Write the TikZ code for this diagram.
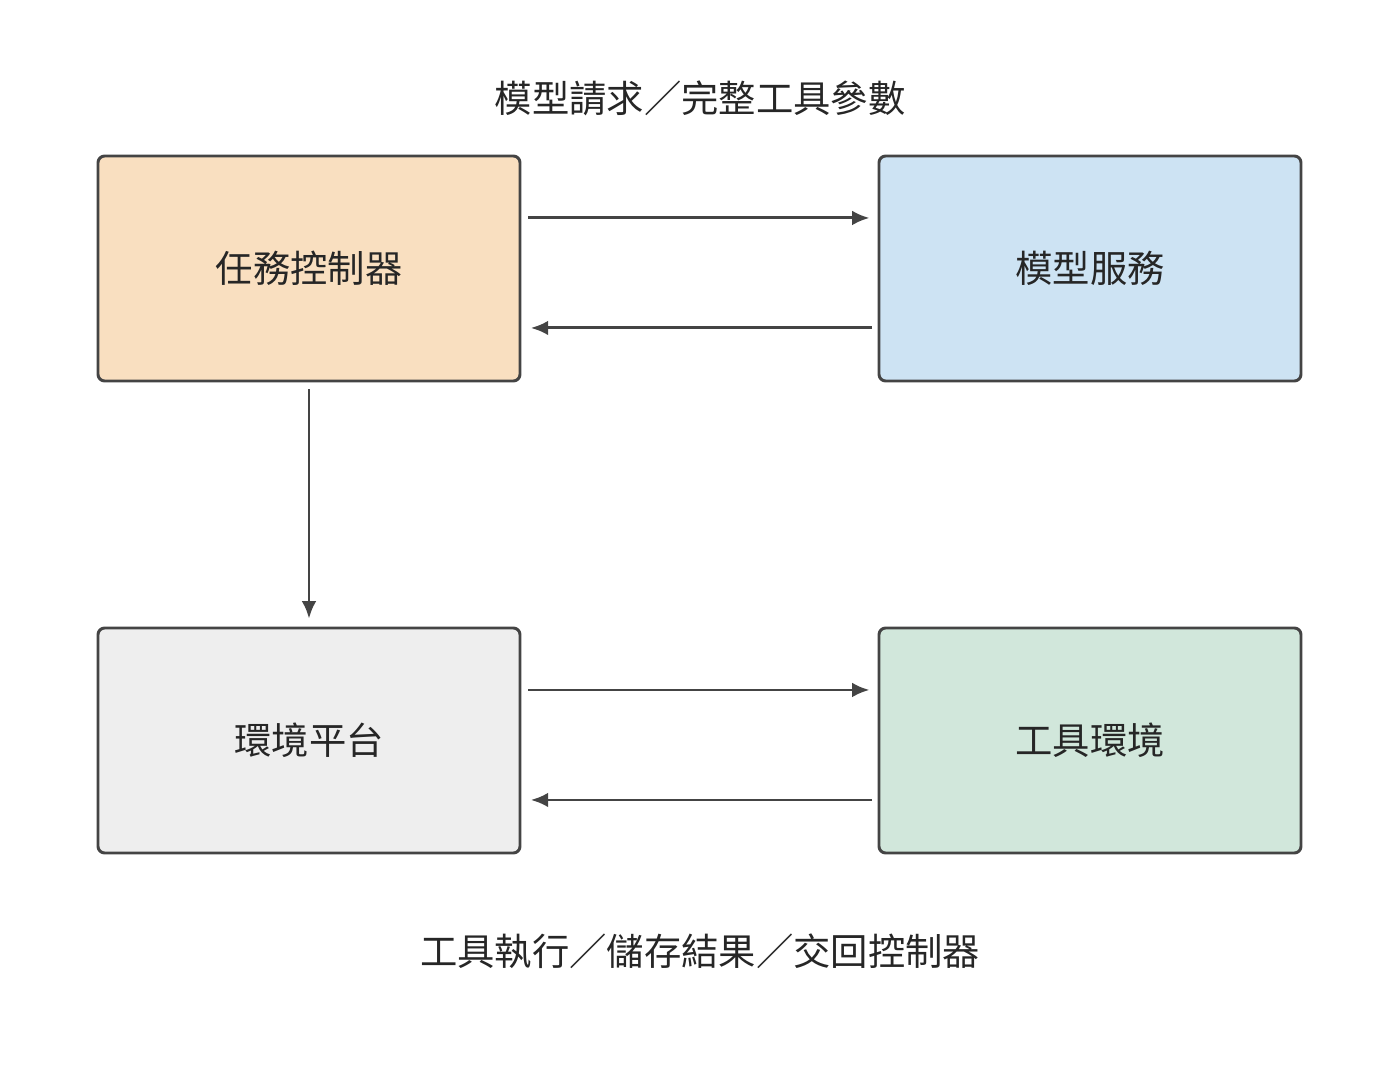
\documentclass[tikz,border=0pt]{standalone}
\usepackage{fontspec}
\newfontfamily\cjk{Noto Sans CJK TC}
\usetikzlibrary{arrows.meta}
\definecolor{edge}{RGB}{68,68,68}
\definecolor{ctrlfill}{RGB}{249,223,192}
\definecolor{modelfill}{RGB}{205,227,243}
\definecolor{envfill}{RGB}{238,238,238}
\definecolor{toolfill}{RGB}{209,231,219}
\begin{document}
\begin{tikzpicture}[x=0.75pt,y=-0.75pt,
  box/.style={draw=edge,line width=2.2pt,rounded corners=5pt,minimum width=316.5pt,minimum height=168.75pt,font=\cjk\fontsize{28}{32}\selectfont,text=black!85},
  link/.style={draw=edge,line width=2.2pt,-{Latex[length=13pt,width=11pt]}},
  caption/.style={font=\cjk\fontsize{28}{32}\selectfont,text=black!85}]
\useasboundingbox (0,0) rectangle (1400,1080);

% boxes
\node[box,fill=ctrlfill] (ctrl) at (309,268.5) {任務控制器};
\node[box,fill=modelfill] (model) at (1090,268.5) {模型服務};
\node[box,fill=envfill] (env) at (309,740.5) {環境平台};
\node[box,fill=toolfill] (tool) at (1090,740.5) {工具環境};

% captions
\node[caption] (top) at (700,98) {模型請求／完整工具參數};
\node[caption] (bottom) at (700,951) {工具執行／儲存結果／交回控制器};

% arrows
\draw[link,shorten <=5pt,shorten >=6pt] ([yshift=37.9pt]ctrl.east) -- ([yshift=37.9pt]model.west);
\draw[link,shorten <=4pt,shorten >=7pt] ([yshift=-44.6pt]model.west) -- ([yshift=-44.6pt]ctrl.east);
\draw[link,shorten <=5pt,shorten >=6pt] (ctrl.south) -- (env.north);
\draw[link,shorten <=5pt,shorten >=6pt] ([yshift=37.9pt]env.east) -- ([yshift=37.9pt]tool.west);
\draw[link,shorten <=4pt,shorten >=7pt] ([yshift=-44.6pt]tool.west) -- ([yshift=-44.6pt]env.east);
\end{tikzpicture}
\end{document}
